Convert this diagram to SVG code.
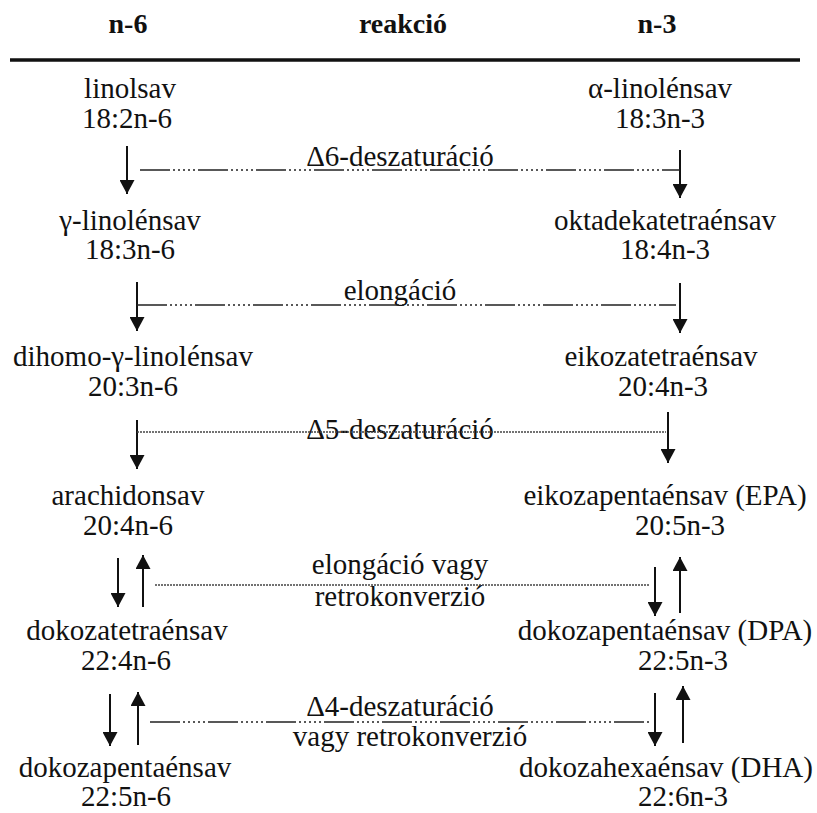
<svg xmlns="http://www.w3.org/2000/svg" width="817" height="813" viewBox="0 0 817 813">
<style>
text{font-family:'Liberation Serif','Times New Roman',serif;font-size:29px;fill:#111;text-anchor:middle}
.h{font-weight:bold;font-size:28px}
.ar{stroke:#111;stroke-width:2;fill:none}
.dd{stroke:#222;stroke-width:1.5;fill:none;stroke-dasharray:30 3 2 3 2 3 2 3 2 3 2 3}
.dt{stroke:#444;stroke-width:1.5;fill:none;stroke-dasharray:2 1}
</style>
<defs>
<marker id="ah" viewBox="0 0 14 15" refX="14" refY="7.5" markerWidth="14" markerHeight="15" markerUnits="userSpaceOnUse" orient="auto">
<path d="M0,0 L14,7.5 L0,15 Z" fill="#111"/>
</marker>
</defs>
<g id="header">
<text class="h" x="128" y="33">n-6</text>
<text class="h" x="403" y="33">reakció</text>
<text class="h" x="657" y="33">n-3</text>
<line x1="10" y1="60" x2="800" y2="60" stroke="#111" stroke-width="3.5"/>
</g>
<g id="n6-1"><text x="130" y="98">linolsav</text><text x="127" y="128">18:2n-6</text></g>
<g id="n3-1"><text x="660" y="98">α-linolénsav</text><text x="660" y="128">18:3n-3</text></g>
<g id="n6-2"><text x="130" y="230">γ-linolénsav</text><text x="130" y="259">18:3n-6</text></g>
<g id="n3-2"><text x="665" y="230">oktadekatetraénsav</text><text x="665" y="259">18:4n-3</text></g>
<g id="n6-3"><text x="133" y="366">dihomo-γ-linolénsav</text><text x="133" y="396">20:3n-6</text></g>
<g id="n3-3"><text x="661" y="366">eikozatetraénsav</text><text x="663" y="396">20:4n-3</text></g>
<g id="n6-4"><text x="128" y="505">arachidonsav</text><text x="128" y="535">20:4n-6</text></g>
<g id="n3-4"><text x="665" y="505">eikozapentaénsav (EPA)</text><text x="680" y="535">20:5n-3</text></g>
<g id="n6-5"><text x="127" y="640">dokozatetraénsav</text><text x="126" y="670">22:4n-6</text></g>
<g id="n3-5"><text x="665" y="640">dokozapentaénsav (DPA)</text><text x="683" y="670">22:5n-3</text></g>
<g id="n6-6"><text x="125" y="777">dokozapentaénsav</text><text x="126" y="806">22:5n-6</text></g>
<g id="n3-6"><text x="666" y="777">dokozahexaénsav (DHA)</text><text x="683" y="806">22:6n-3</text></g>
<g id="reactions">
<text x="400" y="166">Δ6-deszaturáció</text>
<text x="400" y="300">elongáció</text>
<text x="400" y="439">Δ5-deszaturáció</text>
<text x="400" y="574">elongáció vagy</text>
<text x="400" y="606">retrokonverzió</text>
<text x="400" y="716">Δ4-deszaturáció</text>
<text x="410" y="746">vagy retrokonverzió</text>
</g>
<g id="connectors">
<line class="ar" x1="127" y1="146" x2="127" y2="194" marker-end="url(#ah)"/>
<line class="ar" x1="680" y1="150" x2="680" y2="198" marker-end="url(#ah)"/>
<line class="dd" x1="140" y1="170" x2="680" y2="170"/>
<line class="ar" x1="137" y1="282" x2="137" y2="331" marker-end="url(#ah)"/>
<line class="ar" x1="680" y1="283" x2="680" y2="333" marker-end="url(#ah)"/>
<line class="dd" x1="137" y1="305" x2="676" y2="305"/>
<line class="ar" x1="137" y1="420" x2="137" y2="469" marker-end="url(#ah)"/>
<line class="ar" x1="668" y1="412" x2="668" y2="463" marker-end="url(#ah)"/>
<line class="dt" x1="137" y1="432" x2="666" y2="432"/>
<line class="ar" x1="118" y1="558" x2="118" y2="607" marker-end="url(#ah)"/>
<line class="ar" x1="143" y1="607" x2="143" y2="555" marker-end="url(#ah)"/>
<line class="dt" x1="155" y1="585" x2="650" y2="585"/>
<line class="ar" x1="655" y1="567" x2="655" y2="616" marker-end="url(#ah)"/>
<line class="ar" x1="680" y1="613" x2="680" y2="557" marker-end="url(#ah)"/>
<line class="ar" x1="110" y1="694" x2="110" y2="746" marker-end="url(#ah)"/>
<line class="ar" x1="138" y1="745" x2="138" y2="692" marker-end="url(#ah)"/>
<line class="dd" x1="150" y1="722" x2="650" y2="722"/>
<line class="ar" x1="655" y1="693" x2="655" y2="746" marker-end="url(#ah)"/>
<line class="ar" x1="683" y1="743" x2="683" y2="686" marker-end="url(#ah)"/>
</g>
</svg>
